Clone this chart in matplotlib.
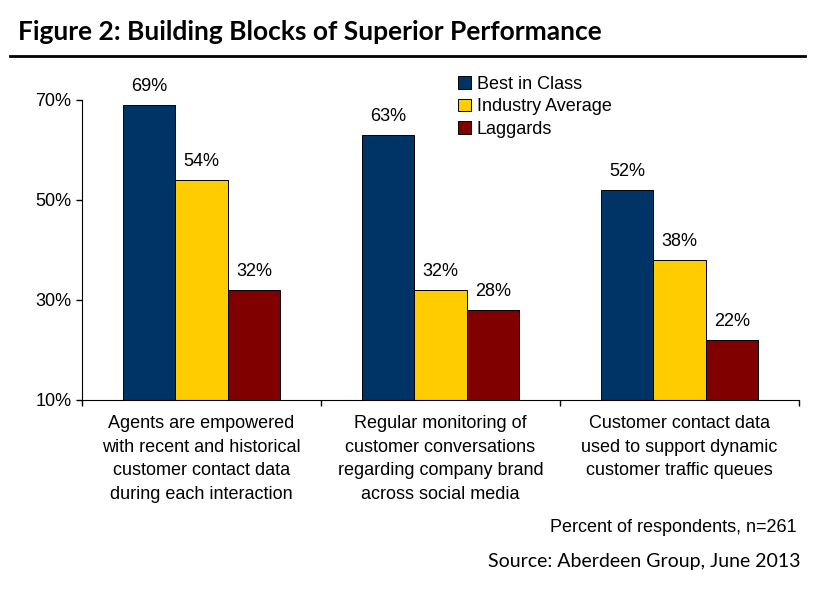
import matplotlib.pyplot as plt
import numpy as np

categories = [
    "Agents are empowered\nwith recent and historical\ncustomer contact data\nduring each interaction",
    "Regular monitoring of\ncustomer conversations\nregarding company brand\nacross social media",
    "Customer contact data\nused to support dynamic\ncustomer traffic queues",
]
series_names = ["Best in Class", "Industry Average", "Laggards"]
best_in_class = [69, 63, 52]
industry_avg = [54, 32, 38]
laggards = [32, 28, 22]
y_ticks = [10, 30, 50, 70]

colors = ["#003366", "#FFCC00", "#800000"]
FONT = ["Liberation Sans", "DejaVu Sans"]
GILL = ["Lato", "DejaVu Sans"]
FS = 13

fig = plt.figure(figsize=(8.36, 5.94), dpi=100)
ax = fig.add_axes([82 / 836, 1 - 400 / 594, 717 / 836, 300 / 594])

x = np.arange(len(categories))
w = 0.22
all_series = [best_in_class, industry_avg, laggards]
for i, (vals, name, c) in enumerate(zip(all_series, series_names, colors)):
    pos = x + (i - 1) * w
    ax.bar(pos, vals, width=w, color=c, edgecolor="black", linewidth=0.7, label=name)
    for p, v in zip(pos, vals):
        ax.annotate(f"{v}%", (p, v), xytext=(0, 7), textcoords="offset points",
                    ha="center", va="bottom", fontsize=FS, family=FONT)

ax.set_xlim(-0.5, 2.5)
ax.set_ylim(10, 70)
ax.set_yticks(y_ticks)
ax.set_yticklabels([f"{t}%" for t in y_ticks], fontsize=FS, family=FONT)
# ticks on category boundaries
ax.set_xticks([-0.5, 0.5, 1.5, 2.5])
ax.set_xticklabels([])
for i, lab in enumerate(categories):
    ax.annotate(lab, (x[i], 10), xytext=(0, -11), textcoords="offset points",
                ha="center", va="top", fontsize=FS, family=FONT, linespacing=1.5,
                annotation_clip=False)

ax.spines["top"].set_visible(False)
ax.spines["right"].set_visible(False)
ax.tick_params(axis="both", length=4, width=1, direction="out")

ax.legend(loc="upper left", bbox_to_anchor=(0.515, 1.105), frameon=False,
          prop={"family": FONT, "size": FS}, handlelength=0.7, handleheight=0.7,
          handletextpad=0.3, labelspacing=0.3, borderaxespad=0)

fig.text(18 / 836, 1 - 32 / 594, "Figure 2: Building Blocks of Superior Performance",
         fontsize=19, fontweight="bold", family=GILL, va="center", ha="left")
fig.add_artist(plt.Line2D([10 / 836, 805 / 836], [1 - 56 / 594, 1 - 56 / 594],
                          color="black", linewidth=2))
fig.text(797 / 836, 1 - 527 / 594, "Percent of respondents, n=261", fontsize=FS,
         family=FONT, ha="right", va="center")
fig.text(801 / 836, 1 - 562 / 594, "Source: Aberdeen Group, June 2013", fontsize=14,
         family=GILL, ha="right", va="center")

fig.savefig("out.png", dpi=100)
